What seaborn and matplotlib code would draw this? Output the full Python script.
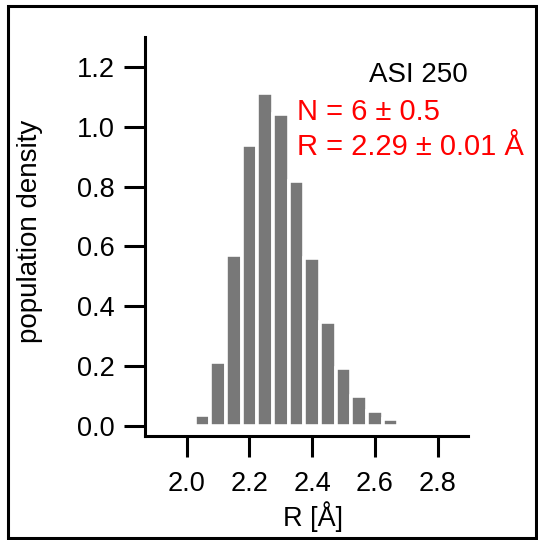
import numpy as np
import pandas as pd
import matplotlib
matplotlib.use("Agg")
import matplotlib.pyplot as plt
import seaborn as sns
from matplotlib.patches import Rectangle

# ---- data ----
bin_centers = [2.05, 2.10, 2.15, 2.20, 2.25, 2.30, 2.35, 2.40, 2.45, 2.50, 2.55, 2.60, 2.65]
densities = [0.035, 0.214, 0.570, 0.938, 1.113, 1.044, 0.820, 0.561, 0.346, 0.193, 0.100, 0.049, 0.024]
x_ticks = [2.0, 2.2, 2.4, 2.6, 2.8]
y_ticks = [0.0, 0.2, 0.4, 0.6, 0.8, 1.0, 1.2]
sample_label = "ASI 250"
fit_lines = ["N = 6 ± 0.5", "R = 2.29 ± 0.01 Å"]
x_label = "R [Å]"
y_label = "population density"

sns.set_theme(style="ticks")
plt.rcParams['font.family'] = ['Liberation Sans', 'DejaVu Sans']

fig = plt.figure(figsize=(5.38, 5.40), dpi=100)
ax = fig.add_axes([145 / 538, 104 / 540, 323 / 538, 399 / 540])

df = pd.DataFrame({"R": bin_centers, "density": densities})
half = 0.025
edges = [c - half for c in bin_centers] + [bin_centers[-1] + half]
sns.histplot(data=df, x="R", weights="density", bins=edges, stat="count",
             color="#787878", alpha=1, edgecolor="white", linewidth=2.6, ax=ax)

ax.set_xlim(1.867, 2.897)
ax.set_ylim(-0.0344, 1.30)
ax.set_xticks(x_ticks)
ax.set_xticklabels([f"{v:.1f}" for v in x_ticks])
ax.set_yticks(y_ticks)
ax.set_yticklabels([f"{v:.1f}" for v in y_ticks])

sns.despine(ax=ax)
for s in ["left", "bottom"]:
    ax.spines[s].set_linewidth(2.2)
    ax.spines[s].set_color("black")
ax.tick_params(axis="both", direction="out", length=15, width=2.2, colors="black",
               labelsize=19.5)
ax.tick_params(axis="y", pad=7)
ax.tick_params(axis="x", pad=10)

ax.set_ylabel(y_label, fontsize=20, color="black")
ax.yaxis.set_label_coords(-0.315, 0.514)
ax.set_xlabel(x_label, fontsize=19.5, color="black")
ax.xaxis.set_label_coords(0.52, -0.163)

ax.text(1.0, 1.150, sample_label, transform=ax.get_yaxis_transform(),
        ha="right", va="baseline", fontsize=20, color="black")
ax.text(2.351, 1.022, fit_lines[0], ha="left", va="baseline", fontsize=21, color="#ff0000")
ax.text(2.351, 0.905, fit_lines[1], ha="left", va="baseline", fontsize=21, color="#ff0000")

fig.add_artist(Rectangle((7.5 / 538, 2 / 540), (535.5 - 7.5) / 538, (536 - 4) / 540,
                         transform=fig.transFigure, fill=False, edgecolor="black",
                         linewidth=2.2))

fig.savefig("out.png", dpi=100)
